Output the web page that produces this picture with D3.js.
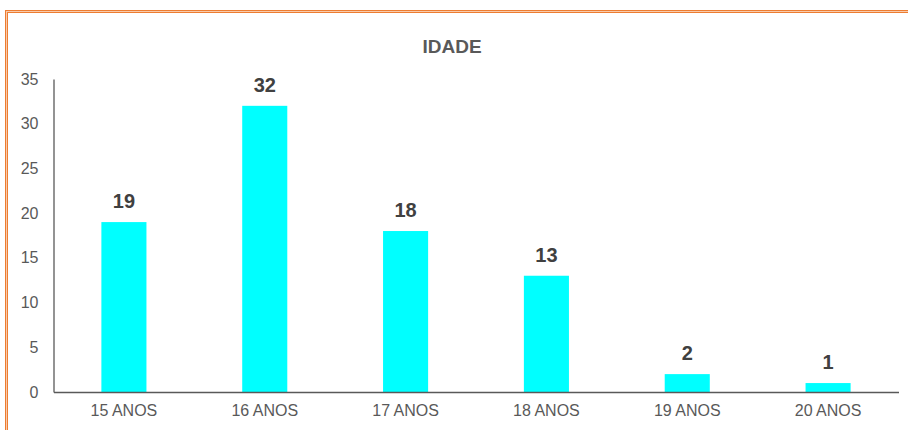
<!DOCTYPE html>
<html>
<head>
<meta charset="utf-8">
<script src="https://cdn.jsdelivr.net/npm/d3@7"></script>
<style>
  body { margin: 0; background: #fff; }
  svg { display: block; font-family: "Liberation Sans", Arial, sans-serif; }
</style>
</head>
<body>
<div id="chart"></div>
<script>
// chart data
const categories = ["15 ANOS", "16 ANOS", "17 ANOS", "18 ANOS", "19 ANOS", "20 ANOS"];
const values = [19, 32, 18, 13, 2, 1];
const yTicks = [0, 5, 10, 15, 20, 25, 30, 35];
const title = "IDADE";

const W = 908, H = 430;
const margin = { top: 79, right: 10, bottom: 38, left: 53 };
const width = W - margin.left - margin.right,
    height = H - margin.top - margin.bottom;

const svg = d3.select("#chart")
    .append("svg")
    .attr("width", W)
    .attr("height", H);

// orange frame (runs off the right and bottom edges)
svg.append("rect")
    .attr("x", 6.5).attr("y", 11.5)
    .attr("width", 1200).attr("height", 1200)
    .attr("fill", "none")
    .attr("stroke", "#ED7D31")
    .attr("stroke-width", 3);
svg.append("rect")
    .attr("x", 6.5).attr("y", 11.5)
    .attr("width", 1200).attr("height", 1200)
    .attr("fill", "none")
    .attr("stroke", "#F8CBAD")
    .attr("stroke-width", 1);

svg.append("text")
    .attr("x", 452)
    .attr("y", 53)
    .attr("text-anchor", "middle")
    .attr("font-size", "19px")
    .attr("font-weight", "bold")
    .attr("fill", "#595959")
    .text(title);

const x = d3.scaleBand().domain(categories).range([0, width]).paddingInner(0.68).paddingOuter(0.34);
const y = d3.scaleLinear().domain([0, 35]).range([height, 0]);

const g = svg.append("g")
    .attr("transform", "translate(" + (margin.left + 0.5) + "," + margin.top + ")");

// y axis: labels only plus the vertical line
const yAxis = g.append("g")
    .call(d3.axisLeft(y).tickValues(yTicks).tickSize(0).tickPadding(15));
yAxis.select(".domain").attr("stroke", "#595959").attr("stroke-width", 1.3);
yAxis.selectAll("text")
    .attr("font-size", "16px")
    .attr("fill", "#595959")
    .attr("font-family", "Liberation Sans, Arial, sans-serif");

g.selectAll(".bar")
    .data(values)
    .enter().append("rect")
    .attr("class", "bar")
    .attr("x", (d, i) => x(categories[i]))
    .attr("y", d => y(d))
    .attr("width", x.bandwidth())
    .attr("height", d => height - y(d))
    .attr("fill", "#00FFFF");

g.selectAll(".lbl")
    .data(values)
    .enter().append("text")
    .attr("class", "lbl")
    .attr("x", (d, i) => x(categories[i]) + x.bandwidth() / 2)
    .attr("y", d => y(d) - 14)
    .attr("text-anchor", "middle")
    .attr("font-size", "20px")
    .attr("font-weight", "bold")
    .attr("fill", "#404040")
    .text(d => d);

// x axis drawn after bars so the baseline sits on top
const xAxis = g.append("g")
    .attr("transform", "translate(0," + height + ")")
    .call(d3.axisBottom(x).tickSize(0).tickPadding(13).tickSizeOuter(0));
xAxis.select(".domain").attr("stroke", "#595959").attr("stroke-width", 1.3);
xAxis.selectAll("text")
    .attr("font-size", "16px")
    .attr("fill", "#595959")
    .attr("font-family", "Liberation Sans, Arial, sans-serif");
</script>
</body>
</html>
